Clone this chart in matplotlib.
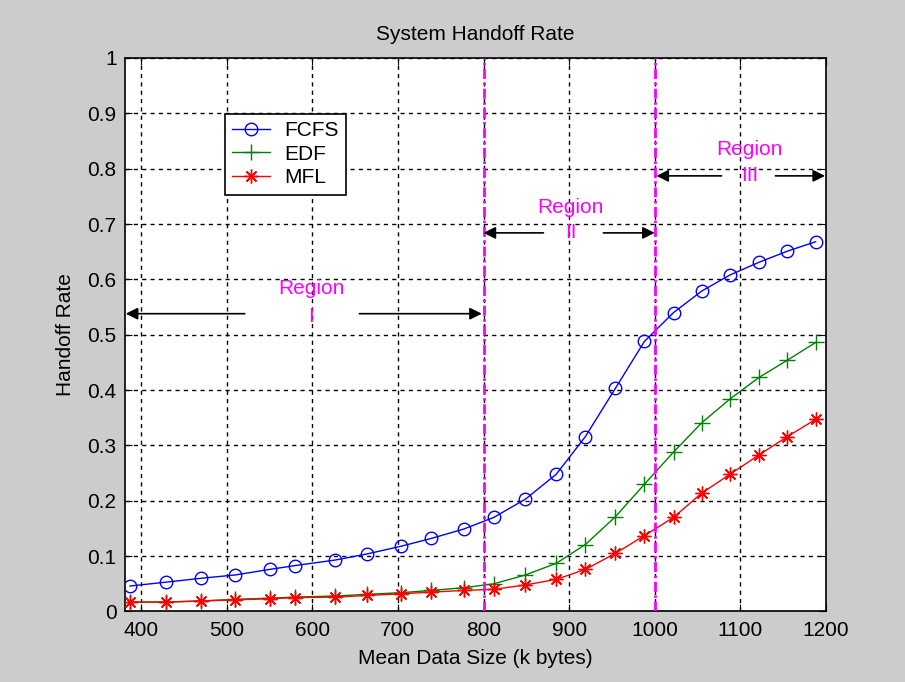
import matplotlib
matplotlib.use("Agg")
import matplotlib.pyplot as plt
import numpy as np

plt.rcParams['font.family'] = ['Liberation Sans', 'DejaVu Sans']

# Data
x_size = [387, 429, 470, 510, 550, 580, 627, 664, 704, 739, 777, 812,
          849, 885, 919, 954, 988, 1022, 1055, 1088, 1122, 1155, 1188]
fcfs = [0.046, 0.053, 0.060, 0.066, 0.076, 0.083, 0.093, 0.104, 0.118, 0.132, 0.149, 0.170,
        0.203, 0.248, 0.316, 0.403, 0.488, 0.540, 0.579, 0.608, 0.631, 0.651, 0.668]
edf = [0.017, 0.017, 0.019, 0.022, 0.024, 0.026, 0.028, 0.031, 0.034, 0.038, 0.043, 0.050,
       0.066, 0.087, 0.121, 0.171, 0.230, 0.288, 0.341, 0.384, 0.423, 0.454, 0.486]
mfl = [0.017, 0.017, 0.019, 0.021, 0.023, 0.025, 0.026, 0.029, 0.032, 0.035, 0.038, 0.040,
       0.048, 0.058, 0.076, 0.105, 0.137, 0.170, 0.214, 0.248, 0.283, 0.316, 0.347]
series_names = ["FCFS", "EDF", "MFL"]
boundaries = [800, 1000]
region_names = ["I", "II", "III"]
x_ticks = [400, 500, 600, 700, 800, 900, 1000, 1100, 1200]
y_ticks = [0, 0.1, 0.2, 0.3, 0.4, 0.5, 0.6, 0.7, 0.8, 0.9, 1]
y_tick_labels = ["0", "0.1", "0.2", "0.3", "0.4", "0.5", "0.6", "0.7", "0.8", "0.9", "1"]

FS = 15

fig = plt.figure(figsize=(9.05, 6.82), dpi=100, facecolor='#cccccc')
ax = fig.add_axes([0.138, 0.1034, 0.7746, 0.8116])
ax.set_facecolor('white')

ax.plot(x_size, fcfs, color='#0000ff', marker='o', markersize=9, markerfacecolor='none',
        markeredgewidth=1, linewidth=1, label=series_names[0], zorder=3)
ax.plot(x_size, edf, color='#008000', marker='+', markersize=11, markeredgewidth=1,
        linewidth=1, label=series_names[1], zorder=3)
ax.plot(x_size, mfl, color='#ff0000', marker=(8, 2, 0), markersize=10, markeredgewidth=1,
        linewidth=1, label=series_names[2], zorder=4)

for b in boundaries:
    ax.axvline(b, color='#ff00ff', linestyle='-.', linewidth=2, dashes=(3.6, 1.3, 0.9, 1.3), zorder=5)

ax.set_xlim(381, 1200)
ax.set_ylim(0, 1)
ax.set_xticks(x_ticks)
ax.set_yticks(y_ticks)
ax.set_yticklabels(y_tick_labels)
ax.tick_params(direction='in', length=5, top=True, right=True, labelsize=FS, colors='black')
ax.tick_params(axis='x', pad=7)
ax.tick_params(axis='y', pad=6)
ax.grid(True, color='black', linestyle=(0, (3, 3)), linewidth=1)
for s in ax.spines.values():
    s.set_linewidth(1.2)
    s.set_color('black')

ax.set_title("System Handoff Rate", fontsize=FS, pad=13)
ax.set_xlabel("Mean Data Size (k bytes)", fontsize=FS, labelpad=6)
ax.set_ylabel("Handoff Rate", fontsize=FS, labelpad=9)

leg = ax.legend(loc='upper left', bbox_to_anchor=(0.1427, 0.899), borderaxespad=0,
                fancybox=False, edgecolor='black', framealpha=1, fontsize=FS,
                handlelength=1.8, handletextpad=0.7, borderpad=0.35, labelspacing=0.22)
leg.get_frame().set_linewidth(1.2)
leg.set_zorder(10)

arrow_kw = dict(arrowstyle='-|>', color='black', lw=1.2, mutation_scale=18, shrinkA=0, shrinkB=0)

def region(name, xc, y_word, y_num, y_arrow, x_left_start, x_left_end, x_right_start, x_right_end):
    ax.text(xc, y_word, "Region", color='#ff00ff', fontsize=FS, ha='center', va='baseline', zorder=6)
    ax.text(xc, y_num, name, color='#ff00ff', fontsize=FS, ha='center', va='baseline', zorder=6)
    ax.annotate('', xy=(x_left_end, y_arrow), xytext=(x_left_start, y_arrow),
                arrowprops=arrow_kw, zorder=6)
    ax.annotate('', xy=(x_right_end, y_arrow), xytext=(x_right_start, y_arrow),
                arrowprops=arrow_kw, zorder=6)

region(region_names[0], 599, 0.5736, 0.523, 0.538, 521, 382, 655, 798)
region(region_names[1], 902, 0.7194, 0.6742, 0.684, 870, 800, 940, 1000)
region(region_names[2], 1111, 0.8248, 0.7783, 0.787, 1078, 1002, 1141, 1199)

fig.savefig("out.png", dpi=100, facecolor=fig.get_facecolor())
